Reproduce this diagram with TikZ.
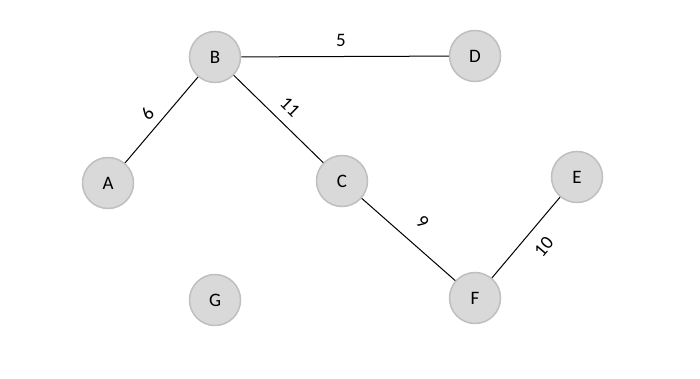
\documentclass[tikz,border=0pt]{standalone}
\usepackage{fontspec}
\setmainfont{Carlito}
\begin{document}
\begin{tikzpicture}[x=1pt,y=-1pt,
  vertex/.style={circle,draw=black!25,line width=1.5pt,fill=black!15,minimum size=51pt,inner sep=0pt,font=\fontsize{19}{21}\selectfont},
  edge/.style={draw=black,line width=1pt},
  wlabel/.style={font=\fontsize{19}{21}\selectfont,sloped,inner sep=0pt}]
\useasboundingbox (0,0) rectangle (700,379);
\node[vertex] (B) at (215,57) {B};
\node[vertex] (D) at (475,56) {D};
\node[vertex] (A) at (108,183) {A};
\node[vertex] (C) at (342,181) {C};
\node[vertex] (E) at (577,177) {E};
\node[vertex] (F) at (475,298) {F};
\node[vertex] (G) at (215,300) {G};
\draw[edge] (B) -- node[wlabel,pos=0.48,above=9.5pt] {5} (D);
\draw[edge] (A) -- node[wlabel,pos=0.46,above=7.6pt] {6} (B);
\draw[edge] (B) -- node[wlabel,pos=0.50,above=10pt] {11} (C);
\draw[edge] (C) -- node[wlabel,pos=0.49,above=16pt] {9} (F);
\draw[edge] (F) -- node[wlabel,pos=0.54,below=13pt] {10} (E);
\end{tikzpicture}
\end{document}
